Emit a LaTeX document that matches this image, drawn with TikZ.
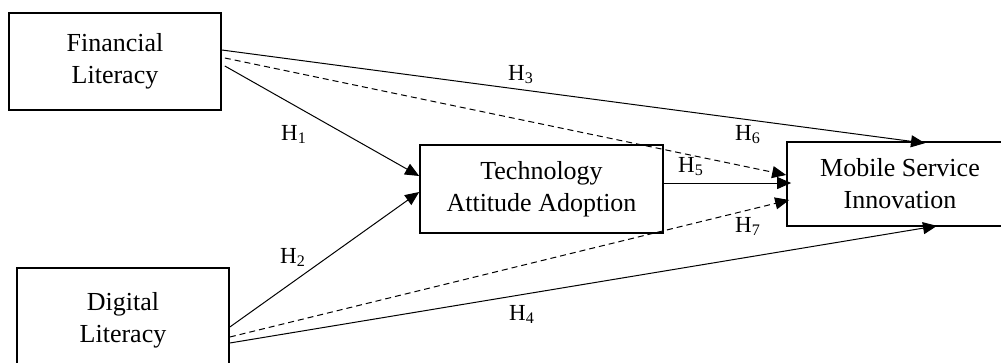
\documentclass[tikz,border=0pt]{standalone}
\usepackage{fontspec}
\setmainfont{Liberation Serif}
\usetikzlibrary{arrows.meta}
\tikzset{
  box/.style={draw, line width=1.7pt, inner sep=0pt, align=center,
    font=\fontsize{26}{32}\selectfont},
  link/.style={line width=1pt, -{Triangle[length=14pt,width=12pt]}},
  dlink/.style={link, dash pattern=on 6pt off 4pt},
  hlab/.style={inner sep=0pt, anchor=base west, font=\fontsize{23}{26}\selectfont}
}
\begin{document}
\begin{tikzpicture}[x=1pt,y=-1pt]
\useasboundingbox (0,0) rectangle (1001,362);
\clip (0,0) rectangle (1001,362);
\fill[white] (0,0) rectangle (1001,362);
\node[box, minimum width=212pt, minimum height=97pt] (fl) at (115,61.5) {Financial\\Literacy};
\node[box, minimum width=212pt, minimum height=104pt] (dl) at (123,320) {Digital\\Literacy};
\node[box, minimum width=243pt, minimum height=88pt] (taa) at (541.5,189) {Technology\\Attitude Adoption};
\node[box, minimum width=226pt, minimum height=84pt] (msi) at (900,184) {Mobile Service\\Innovation};

\draw[link] ([yshift=11.5pt]fl.east) -- ([xshift=25pt,yshift=-2pt]msi.north);
\draw[dlink] ([xshift=3pt,yshift=3.5pt]fl.east) -- ([yshift=9pt]msi.west);
\draw[link] ([xshift=3pt,yshift=-4.5pt]fl.east) -- ([yshift=13pt]taa.west);
\draw[link] ([yshift=-7pt]dl.east) -- ([yshift=-3pt]taa.west);
\draw[dlink] ([yshift=-17pt]dl.east) -- ([xshift=3pt,yshift=-16pt]msi.west);
\draw[link] ([yshift=-23pt]dl.east) -- ([xshift=37pt,yshift=1pt]msi.south);
\draw[link] ([yshift=6pt]taa.east) -- ([xshift=5pt,yshift=1pt]msi.west);

\node[hlab] (h1) at (281,140) {H\textsubscript{1}};
\node[hlab] (h2) at (280,263) {H\textsubscript{2}};
\node[hlab] (h3) at (508,80) {H\textsubscript{3}};
\node[hlab] (h4) at (509,320) {H\textsubscript{4}};
\node[hlab] (h5) at (678,172) {H\textsubscript{5}};
\node[hlab] (h6) at (735,140) {H\textsubscript{6}};
\node[hlab] (h7) at (735,232) {H\textsubscript{7}};
\end{tikzpicture}
\end{document}
